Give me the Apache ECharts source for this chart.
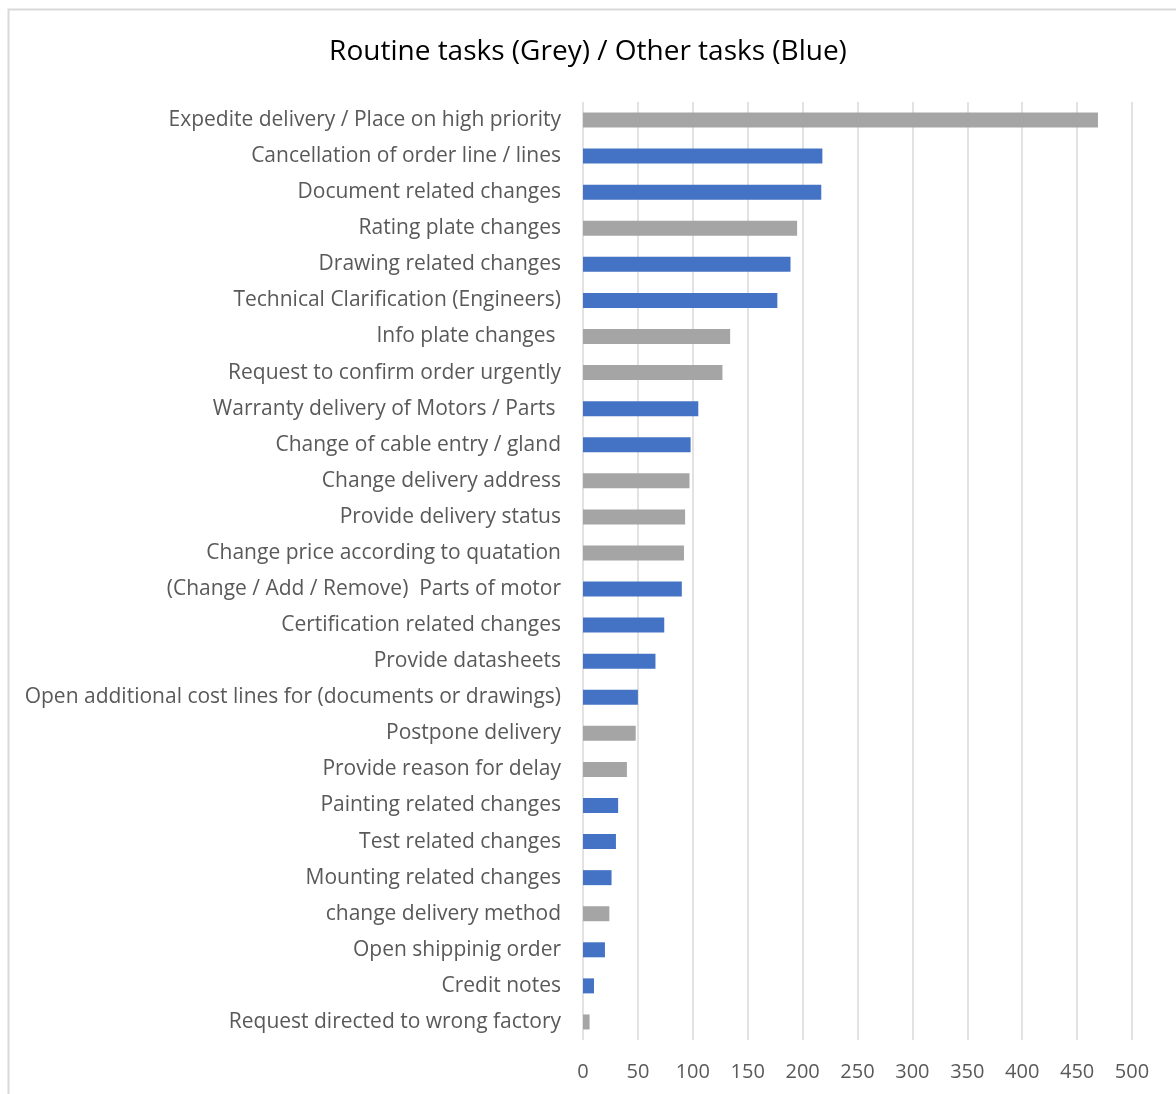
<!DOCTYPE html>
<html>
<head>
<meta charset="utf-8">
<script src="https://cdn.jsdelivr.net/npm/echarts@6/dist/echarts.min.js"></script>
<style>
html,body{margin:0;padding:0;background:#fff;}
#chart{width:1176px;height:1094px;}
</style>
</head>
<body>
<div id="chart"></div>
<script>
const titleText = 'Routine tasks (Grey) / Other tasks (Blue)';
const categories = [
  'Expedite delivery / Place on high priority',
  'Cancellation of order line / lines',
  'Document related changes',
  'Rating plate changes',
  'Drawing related changes',
  'Technical Clarification (Engineers)',
  'Info plate changes ',
  'Request to confirm order urgently',
  'Warranty delivery of Motors / Parts ',
  'Change of cable entry / gland',
  'Change delivery address',
  'Provide delivery status',
  'Change price according to quatation',
  '(Change / Add / Remove)  Parts of motor',
  'Certification related changes',
  'Provide datasheets',
  'Open additional cost lines for (documents or drawings)',
  'Postpone delivery',
  'Provide reason for delay',
  'Painting related changes',
  'Test related changes',
  'Mounting related changes',
  'change delivery method',
  'Open shippinig order',
  'Credit notes',
  'Request directed to wrong factory'
];
const values = [469, 218, 217, 195, 189, 177, 134, 127, 105, 98, 97, 93, 92, 90, 74, 66, 50, 48, 40, 32, 30, 26, 24, 20, 10, 6];
// 'R' = routine task (grey), 'O' = other task (blue)
const taskType = ['R','O','O','R','O','O','R','R','O','O','R','R','R','O','O','O','O','R','R','O','O','O','R','O','O','R'];
const xTicks = { min: 0, max: 500, interval: 50 };
const typeColors = { R: '#A5A5A5', O: '#4472C4' };

const chart = echarts.init(document.getElementById('chart'));
chart.setOption({
  backgroundColor: '#fff',
  animation: false,
  graphic: [{
    type: 'rect',
    shape: { x: 8.5, y: 9.5, width: 1400, height: 1400 },
    style: { fill: 'none', stroke: '#d9d9d9', lineWidth: 2 },
    silent: true
  }],
  title: {
    text: titleText,
    left: 'center',
    top: 33,
    textStyle: { fontFamily: 'Open Sans', fontSize: 28, fontWeight: 'normal', color: '#000' }
  },
  grid: { left: 583, right: 44, top: 102, bottom: 54, containLabel: false },
  xAxis: {
    type: 'value',
    min: xTicks.min, max: xTicks.max, interval: xTicks.interval,
    axisLine: { show: false },
    axisTick: { show: false },
    axisLabel: { color: '#595959', fontFamily: 'Open Sans', fontSize: 20, margin: 22 },
    splitLine: { show: true, lineStyle: { color: '#d9d9d9', width: 1.5 } }
  },
  yAxis: {
    type: 'category',
    data: categories,
    inverse: true,
    axisLine: { show: false },
    axisTick: { show: false },
    axisLabel: { color: '#595959', fontFamily: 'Open Sans', fontSize: 21, margin: 22 }
  },
  series: [{
    type: 'bar',
    barWidth: 15,
    data: values.map((v, i) => ({ value: v, itemStyle: { color: typeColors[taskType[i]] } }))
  }]
});
</script>
</body>
</html>
